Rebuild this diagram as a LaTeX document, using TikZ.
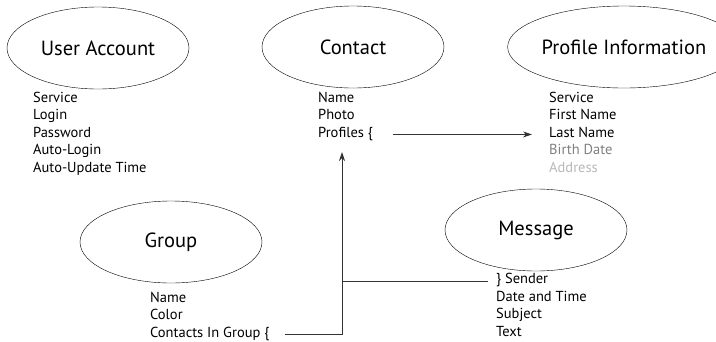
\documentclass[tikz,border=0pt]{standalone}
\usepackage{fontspec}
\setmainfont{PT Sans}
\usetikzlibrary{matrix, positioning, shapes, arrows.meta}
\tikzset{
entity/.style={
  draw, ellipse,
  minimum width=182pt,
  minimum height=82pt,
  inner sep=0pt,
  font=\fontsize{20.5}{20.5}\selectfont
},
attrs/.style={
  matrix of nodes,
  row sep=0pt,
  inner sep=0pt,
  anchor=north west,
  nodes={anchor=west, inner sep=0pt, text height=11.5pt, text depth=6pt,
    font=\fontsize{14.5}{14.5}\selectfont}
},
link/.style={draw=black!80, line width=0.8pt},
}

\begin{document}
\begin{tikzpicture}[x=1pt, y=-1pt]
    \useasboundingbox (0,0) rectangle (716,341);
    \node[entity] (user) at (98,48) {User Account};
    \node[entity] (contact) at (353,47) {Contact};
    \node[entity] (profile) at (624,47) {Profile Information};
    \node[entity] (group) at (171,242) {Group};
    \node[entity] (message) at (536,230) {Message};

    \matrix (userattr) [attrs] at (33,90.5) {
        Service \\
        Login \\
        Password \\
        Auto-Login \\
        Auto-Update Time \\
    };
    \matrix (contactattr) [attrs] at (318,90.5) {
        Name \\
        Photo \\
        Profiles \{ \\
    };
    \matrix (profileattr) [attrs] at (549,90.5) {
        Service \\
        First Name \\
        Last Name \\
        |[text=black!50]| Birth Date \\
        |[text=black!28]| Address \\
    };
    \matrix (groupattr) [attrs] at (150,290.5) {
        Name \\
        Color \\
        Contacts In Group \{ \\
    };
    \matrix (msgattr) [attrs] at (496,272) {
        \} Sender \\
        Date and Time \\
        Subject \\
        Text \\
    };

    \coordinate (tip) at (342,152);
    \draw[link, -{Stealth[length=9pt, width=6pt]}] ([xshift=20pt]contactattr-3-1.east) -- ([xshift=-17pt]profileattr-3-1.west);
    \draw[link, -{Stealth[length=9pt, width=6pt]}] ([xshift=15pt]groupattr-3-1.east) -| (tip);
    \draw[link] ([xshift=-8pt]msgattr-1-1.west) -- (msgattr-1-1.west -| tip);
\end{tikzpicture}
\end{document}
